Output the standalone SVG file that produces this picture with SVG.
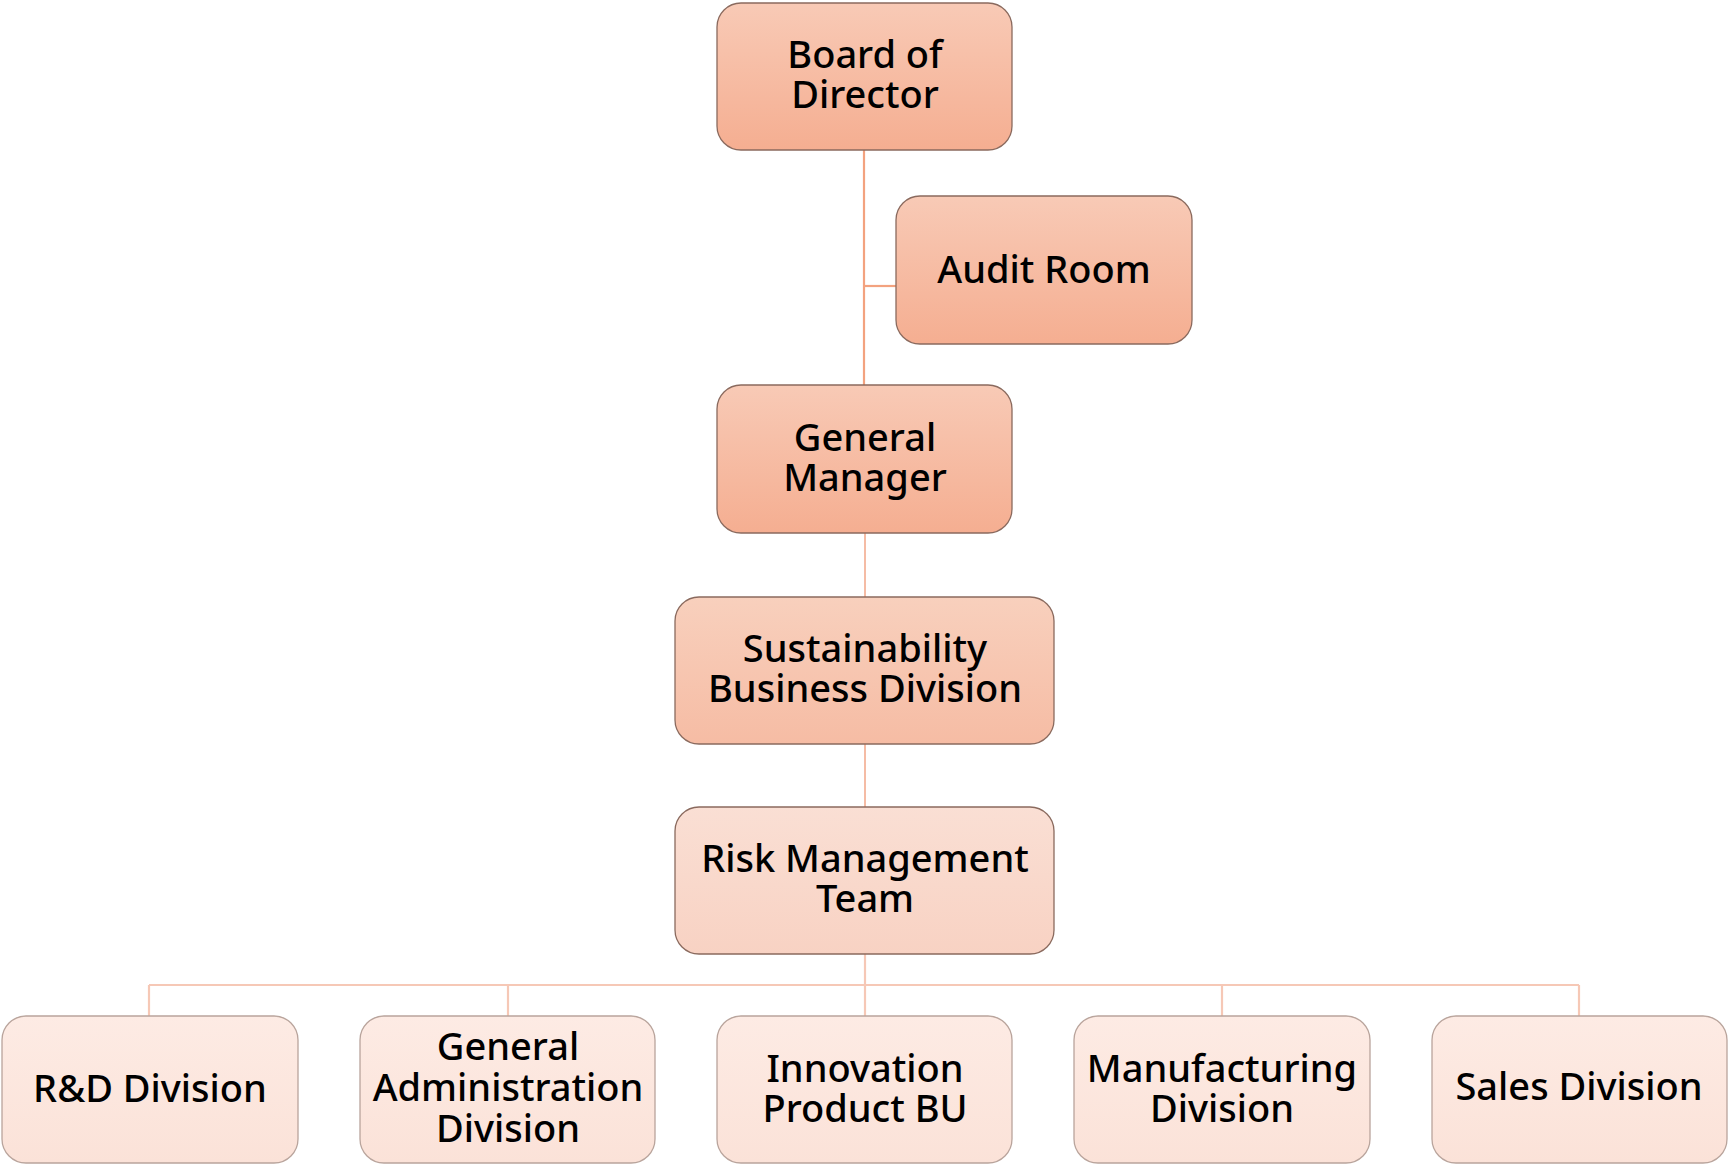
<svg xmlns="http://www.w3.org/2000/svg" width="1730" height="1174" viewBox="0 0 1730 1174">
<defs>
<linearGradient id="g1" x1="0" y1="0" x2="0" y2="1"><stop offset="0" stop-color="#f8cab6"/><stop offset="1" stop-color="#f5ae91"/></linearGradient>
<linearGradient id="g2" x1="0" y1="0" x2="0" y2="1"><stop offset="0" stop-color="#f8d0bd"/><stop offset="1" stop-color="#f6bca4"/></linearGradient>
<linearGradient id="g3" x1="0" y1="0" x2="0" y2="1"><stop offset="0" stop-color="#fadfd4"/><stop offset="1" stop-color="#f8d2c3"/></linearGradient>
<linearGradient id="g4" x1="0" y1="0" x2="0" y2="1"><stop offset="0" stop-color="#fdebe4"/><stop offset="1" stop-color="#fbe2d8"/></linearGradient>
</defs>
<style>
.b{stroke:#8a6a5e;stroke-width:1.3}
.bl{stroke:#b9a49c;stroke-width:1.3}
.t{font-family:"Noto Sans","Open Sans","DejaVu Sans",sans-serif;font-size:38px;font-weight:500;fill:#000;text-anchor:middle}
.c1{stroke:#f3a27f;stroke-width:2.2;fill:none}
.c2{stroke:#f5bca5;stroke-width:2;fill:none}
.c3{stroke:#f6c8b6;stroke-width:2.2;fill:none}
</style>
<rect width="1730" height="1174" fill="#fff"/>
<g id="connectors">
<path class="c1" d="M864 150V385"/>
<path class="c1" d="M864 286H896"/>
<path class="c2" d="M865 533V597"/>
<path class="c2" d="M865 744V807"/>
<path class="c3" d="M865 954V1016"/>
<path class="c3" d="M149 985H1579"/>
<path class="c3" d="M149 985V1016M508 985V1016M1222 985V1016M1579 985V1016"/>
</g>
<g id="board"><rect class="b" x="717" y="3" width="295" height="147" rx="24" fill="url(#g1)"/><text class="t" x="865" y="68">Board of</text><text class="t" x="865" y="108">Director</text></g>
<g id="audit"><rect class="b" x="896" y="196" width="296" height="148" rx="24" fill="url(#g1)"/><text class="t" x="1044" y="283">Audit Room</text></g>
<g id="gm"><rect class="b" x="717" y="385" width="295" height="148" rx="24" fill="url(#g1)"/><text class="t" x="865" y="451">General</text><text class="t" x="865" y="491">Manager</text></g>
<g id="sustainability"><rect class="b" x="675" y="597" width="379" height="147" rx="24" fill="url(#g2)"/><text class="t" x="865" y="662">Sustainability</text><text class="t" x="865" y="702">Business Division</text></g>
<g id="risk"><rect class="b" x="675" y="807" width="379" height="147" rx="24" fill="url(#g3)"/><text class="t" x="865" y="872">Risk Management</text><text class="t" x="865" y="912">Team</text></g>
<g id="rd"><rect class="bl" x="2" y="1016" width="296" height="147" rx="24" fill="url(#g4)"/><text class="t" x="150" y="1102">R&amp;D Division</text></g>
<g id="ga"><rect class="bl" x="360" y="1016" width="295" height="147" rx="24" fill="url(#g4)"/><text class="t" x="508" y="1060">General</text><text class="t" x="508" y="1101">Administration</text><text class="t" x="508" y="1142">Division</text></g>
<g id="innovation"><rect class="bl" x="717" y="1016" width="295" height="147" rx="24" fill="url(#g4)"/><text class="t" x="865" y="1082">Innovation</text><text class="t" x="865" y="1122">Product BU</text></g>
<g id="manufacturing"><rect class="bl" x="1074" y="1016" width="296" height="147" rx="24" fill="url(#g4)"/><text class="t" x="1222" y="1082">Manufacturing</text><text class="t" x="1222" y="1122">Division</text></g>
<g id="sales"><rect class="bl" x="1432" y="1016" width="295" height="147" rx="24" fill="url(#g4)"/><text class="t" x="1579" y="1100">Sales Division</text></g>
</svg>
